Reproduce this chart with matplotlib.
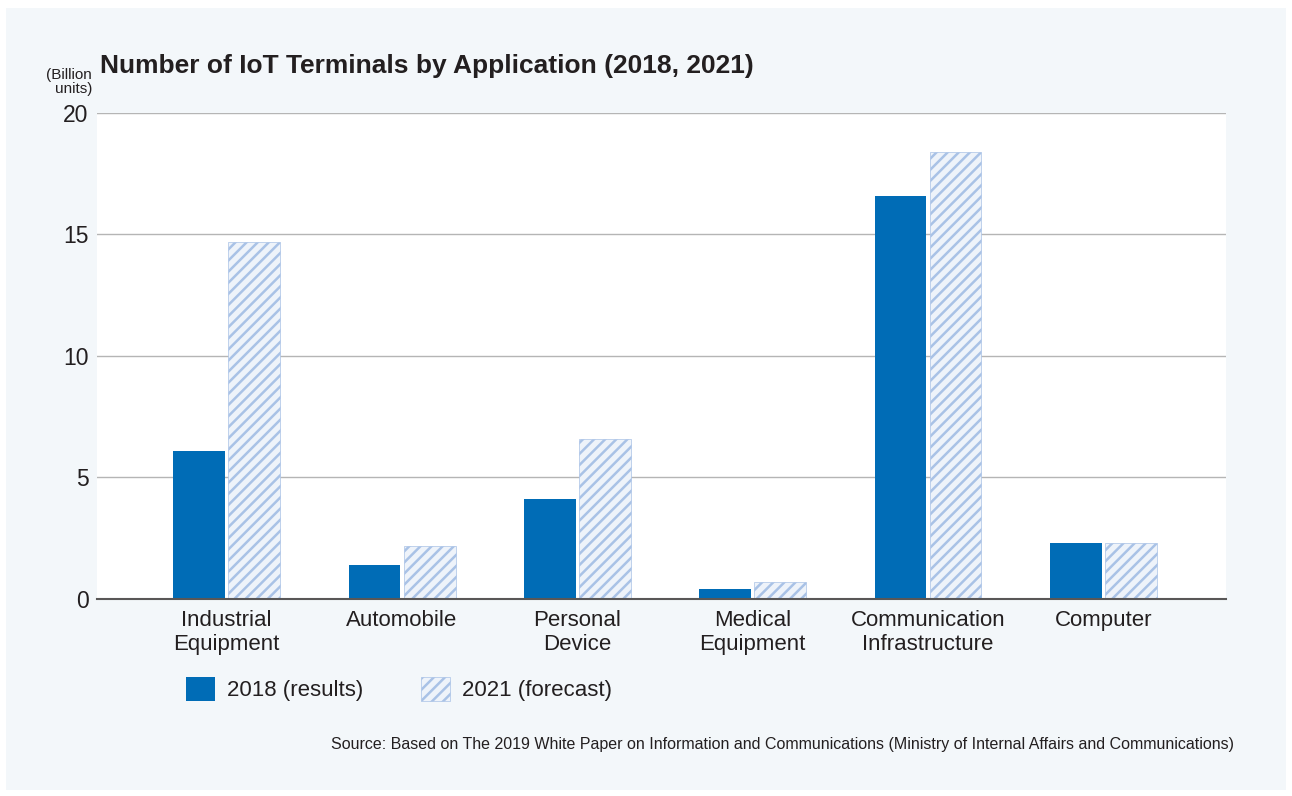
import matplotlib
matplotlib.use("Agg")
import matplotlib.pyplot as plt
import matplotlib.patches as mpatches
import numpy as np

categories = ["Industrial\nEquipment", "Automobile", "Personal\nDevice",
              "Medical\nEquipment", "Communication\nInfrastructure", "Computer"]
values_2018 = [6.1, 1.4, 4.1, 0.4, 16.6, 2.3]
values_2021 = [14.7, 2.2, 6.6, 0.7, 18.4, 2.3]
yticks = [0, 5, 10, 15, 20]
series_labels = ["2018 (results)", "2021 (forecast)"]

W, H = 1292, 796
plt.rcParams['font.family'] = ['Liberation Sans', 'DejaVu Sans']
plt.rcParams['hatch.color'] = '#82a8da'
plt.rcParams['hatch.linewidth'] = 1.8

TXT = '#231f20'
fig = plt.figure(figsize=(W / 100, H / 100), dpi=100)
fig.patch.set_facecolor('white')
# light panel
fig.patches.append(mpatches.Rectangle((6 / W, 1 - 790 / H), (1286 - 6) / W, (790 - 8) / H,
                                      transform=fig.transFigure, facecolor='#f3f7fa',
                                      edgecolor='none', zorder=-10))

ax = fig.add_axes([97 / W, 1 - 599 / H, (1226 - 97) / W, (599 - 113) / H])
ax.set_zorder(5)
ax.set_facecolor('white')

x = np.arange(len(categories))
bw = 0.296
off = 0.157
ax.bar(x - off, values_2018, bw, color='#006cb6', zorder=3)
ax.bar(x + off, values_2021, bw, facecolor='#eef3fa', edgecolor='#a9c2e6',
       hatch='///', linewidth=0.5, zorder=3)

ax.set_xlim(-0.74, 5.7)
ax.set_ylim(0, 20)
ax.set_yticks(yticks)
ax.set_yticklabels([str(t) for t in yticks], fontsize=16.5, color=TXT)
ax.yaxis.grid(True, color='#b5b5b5', linewidth=1.0, zorder=0)
ax.tick_params(axis='y', length=0, pad=6)
ax.set_xticks(x)
ax.set_xticklabels(categories, fontsize=16, color=TXT, linespacing=1.2)
ax.tick_params(axis='x', length=0, pad=8)
for s in ['top', 'right', 'left']:
    ax.spines[s].set_visible(False)
ax.spines['bottom'].set_color('#595757')
ax.spines['bottom'].set_linewidth(1.5)
ax.spines['bottom'].set_zorder(4)

fig.text(100 / W, 1 - 66 / H, "Number of IoT Terminals by Application (2018, 2021)",
         fontsize=19, fontweight='bold', color=TXT, va='center', ha='left')
fig.text(92 / W, 1 - 82 / H, "(Billion\nunits)", fontsize=11, color=TXT,
         ha='right', va='center', linespacing=0.95)

# legend
h1 = mpatches.Patch(facecolor='#006cb6', edgecolor='none')
h2 = mpatches.Patch(facecolor='#eef3fa', edgecolor='#a9c2e6', hatch='///', linewidth=0.5)
leg = fig.legend([h1, h2], series_labels, loc='center left',
                 bbox_to_anchor=(166 / W, 1 - 689 / H), ncol=2, frameon=False,
                 fontsize=16, handlelength=1.3, handleheight=1.3,
                 handletextpad=0.55, columnspacing=2.6, labelcolor=TXT)

fig.text(1234 / W, 1 - 745 / H,
         "Source: Based on The 2019 White Paper on Information and Communications (Ministry of Internal Affairs and Communications)",
         fontsize=11.5, color=TXT, ha='right', va='center')

fig.savefig("out.png", dpi=100, facecolor=fig.get_facecolor())
